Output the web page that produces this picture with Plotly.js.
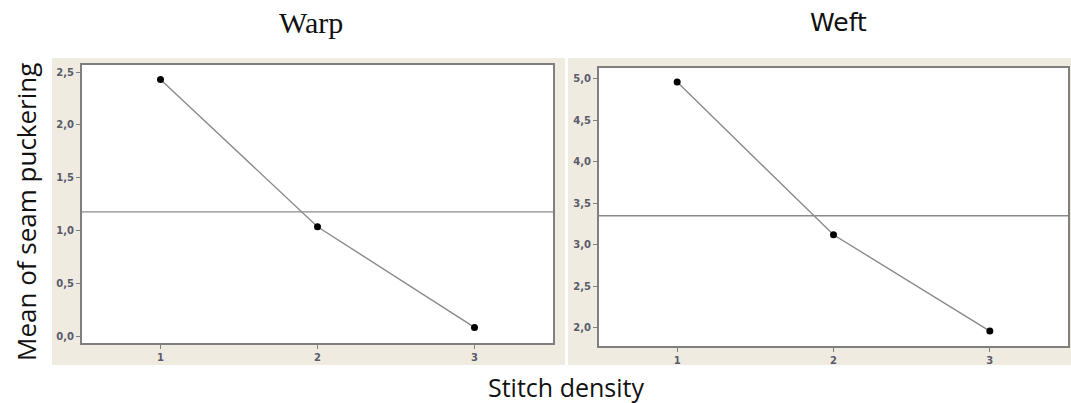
<!DOCTYPE html>
<html>
<head>
<meta charset="utf-8">
<script src="https://cdn.plot.ly/plotly-3.0.1.min.js"></script>
<style>html,body{margin:0;padding:0;background:#fff;}#chart{width:1071px;height:403px;}</style>
</head>
<body>
<div id="chart"></div>
<script>
// Data
const stitchDensity = [1, 2, 3];
const warpMeans = [2.43, 1.04, 0.09];
const weftMeans = [4.96, 3.12, 1.96];
const warpOverall = 1.18;
const weftOverall = 3.35;
const warpTicks = [0.0, 0.5, 1.0, 1.5, 2.0, 2.5];
const weftTicks = [2.0, 2.5, 3.0, 3.5, 4.0, 4.5, 5.0];
const panelTitles = ['Warp', 'Weft'];

const W = 1071, H = 403;
const px = v => v / W;
const py = v => 1 - v / H;

const fmt = v => v.toFixed(1).replace('.', ',');

const lineStyle = {color: '#8a8a8a', width: 1.4};
const markerStyle = {color: '#000', size: 7};

const traces = [
  {x: stitchDensity, y: warpMeans, xaxis: 'x', yaxis: 'y', mode: 'lines+markers',
   line: lineStyle, marker: markerStyle, hoverinfo: 'x+y'},
  {x: stitchDensity, y: weftMeans, xaxis: 'x2', yaxis: 'y2', mode: 'lines+markers',
   line: lineStyle, marker: markerStyle, hoverinfo: 'x+y'}
];

const tickFont = {family: 'DejaVu Sans, Verdana, sans-serif', size: 10, color: '#5a5a6a', weight: 'bold'};
function xa(domain, anchor) {
  return {domain: domain, anchor: anchor, range: [0.5, 3.5], tickvals: stitchDensity, ticktext: stitchDensity.map(String),
    showgrid: false, zeroline: false, showline: true, mirror: true, linecolor: '#7f7f7f', linewidth: 2,
    ticks: 'outside', ticklen: 4, tickcolor: '#7f7f7f', tickwidth: 1, tickfont: tickFont, fixedrange: true};
}
function ya(domain, anchor, range, ticks) {
  return {domain: domain, anchor: anchor, range: range, tickvals: ticks, ticktext: ticks.map(fmt),
    showgrid: false, zeroline: false, showline: true, mirror: true, linecolor: '#7f7f7f', linewidth: 2,
    ticks: 'outside', ticklen: 4, tickcolor: '#7f7f7f', tickwidth: 1, tickfont: tickFont, fixedrange: true};
}

const beige = '#efebe1';
const shapes = [
  {type: 'rect', xref: 'paper', yref: 'paper', x0: px(52), x1: px(565), y0: py(365), y1: py(58),
   fillcolor: beige, line: {width: 0}, layer: 'below'},
  {type: 'rect', xref: 'paper', yref: 'paper', x0: px(568), x1: px(1071), y0: py(365), y1: py(58),
   fillcolor: beige, line: {width: 0}, layer: 'below'},
  {type: 'rect', xref: 'x domain', yref: 'y domain', x0: 0, x1: 1, y0: 0, y1: 1,
   fillcolor: '#fff', line: {width: 0}, layer: 'below'},
  {type: 'rect', xref: 'x2 domain', yref: 'y2 domain', x0: 0, x1: 1, y0: 0, y1: 1,
   fillcolor: '#fff', line: {width: 0}, layer: 'below'},
  {type: 'line', xref: 'x domain', yref: 'y', x0: 0, x1: 1, y0: warpOverall, y1: warpOverall,
   line: {color: '#8a8a8a', width: 1.4}, layer: 'below'},
  {type: 'line', xref: 'x2 domain', yref: 'y2', x0: 0, x1: 1, y0: weftOverall, y1: weftOverall,
   line: {color: '#8a8a8a', width: 1.4}, layer: 'below'}
];

const annotations = [
  {text: panelTitles[0], xref: 'paper', yref: 'paper', x: px(311), y: py(23), showarrow: false,
   xanchor: 'center', yanchor: 'middle', font: {family: 'Liberation Serif, Times New Roman, serif', size: 30, color: '#111'}},
  {text: panelTitles[1], xref: 'paper', yref: 'paper', x: px(838), y: py(23), showarrow: false,
   xanchor: 'center', yanchor: 'middle', font: {family: 'DejaVu Sans, Verdana, sans-serif', size: 25, color: '#111'}},
  {text: 'Stitch density', xref: 'paper', yref: 'paper', x: px(566), y: py(387), showarrow: false,
   xanchor: 'center', yanchor: 'middle', font: {family: 'Open Sans, DejaVu Sans, sans-serif', size: 25, color: '#111'}},
  {text: 'Mean of seam puckering', xref: 'paper', yref: 'paper', x: px(26), y: py(212), showarrow: false,
   textangle: -90, xanchor: 'center', yanchor: 'middle', font: {family: 'Open Sans, DejaVu Sans, sans-serif', size: 26, color: '#111'}}
];

const layout = {
  width: W, height: H,
  margin: {l: 0, r: 0, t: 0, b: 0},
  paper_bgcolor: '#fff', plot_bgcolor: 'rgba(0,0,0,0)',
  showlegend: false,
  xaxis: xa([px(82), px(553)], 'y'),
  yaxis: ya([py(343), py(65)], 'x', [-0.057, 2.566], warpTicks),
  xaxis2: xa([px(599), px(1068)], 'y2'),
  yaxis2: ya([py(346), py(68)], 'x2', [1.78, 5.13], weftTicks),
  shapes: shapes,
  annotations: annotations
};

Plotly.newPlot('chart', traces, layout, {displayModeBar: false, staticPlot: true});
</script>
</body>
</html>
